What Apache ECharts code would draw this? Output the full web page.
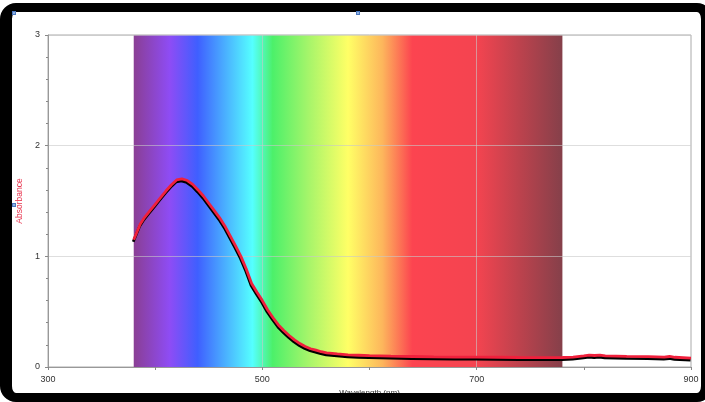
<!DOCTYPE html>
<html><head><meta charset="utf-8">
<script src="https://cdn.jsdelivr.net/npm/echarts@6/dist/echarts.min.js"></script>
<style>
html,body{margin:0;padding:0;background:#fff;overflow:hidden;}
#c{position:absolute;left:0;top:0;width:705px;height:402px;}
#frame{position:absolute;left:0;top:3px;width:713px;height:399px;box-sizing:border-box;border-style:solid;border-color:#000;border-width:9px 12px 9px 12px;border-radius:16px;pointer-events:none;}
.h{position:absolute;width:4px;height:4px;background:#8fb0e0;border:1px solid #4a78c0;box-sizing:border-box;pointer-events:none;}
</style></head>
<body><div id="c"></div><div id="frame"></div>
<div class="h" style="left:12px;top:11px"></div>
<div class="h" style="left:356px;top:11px"></div>
<div class="h" style="left:12px;top:203px"></div>
<script>
const wavelengths = [380,383,386,390,395,400,405,410,415,420,425,430,435,440,445,450,455,460,465,470,475,480,485,490,495,500,505,510,515,520,525,530,535,540,545,550,555,560,570,580,590,600,620,640,660,680,700,720,740,760,780,790,800,805,810,815,820,840,860,875,880,885,900];
const absorbance = [1.15,1.22,1.29,1.35,1.41,1.47,1.53,1.59,1.645,1.69,1.70,1.685,1.65,1.60,1.545,1.48,1.415,1.35,1.275,1.185,1.095,1.00,0.885,0.755,0.675,0.60,0.515,0.445,0.38,0.33,0.285,0.245,0.212,0.185,0.165,0.152,0.138,0.128,0.118,0.11,0.106,0.102,0.098,0.095,0.092,0.09,0.09,0.088,0.086,0.085,0.086,0.09,0.10,0.108,0.104,0.107,0.10,0.096,0.094,0.09,0.095,0.088,0.08];
const bandStart = 380, bandEnd = 780;
const spectrumStops = [
  [0,'#8a3f94'],[0.084,'#8e4cf5'],[0.149,'#3f5fff'],[0.277,'#55ffff'],[0.324,'#4cf06a'],
  [0.41,'#a8f56a'],[0.50,'#ffff66'],[0.58,'#fdb65c'],[0.65,'#fc4450'],[0.80,'#f44450'],[1,'#85404a']
];
const xTicks = [300,500,700,900];

const chart = echarts.init(document.getElementById('c'));
const font = 'Liberation Sans, Arial, sans-serif';
chart.setOption({
  animation:false,
  backgroundColor:'#fff',
  grid:{left:48,right:14,top:35,bottom:35,show:true,borderColor:'#aaa',borderWidth:1},
  xAxis:{type:'value',min:300,max:900,interval:100,z:3,
    axisLine:{onZero:false,lineStyle:{color:'#999'}},
    axisTick:{length:3,lineStyle:{color:'#888'}},
    axisLabel:{fontSize:9,color:'#333',fontFamily:font,margin:8,
      formatter:v=>xTicks.includes(v)?String(v):''},
    splitLine:{show:false},
    name:'Wavelength (nm)',nameLocation:'middle',nameGap:21,
    nameTextStyle:{fontSize:8,color:'#333',fontFamily:font}},
  yAxis:{type:'value',min:0,max:3,interval:1,z:3,
    axisLine:{show:true,lineStyle:{color:'#999'}},
    axisTick:{show:true,length:3,lineStyle:{color:'#888'}},
    minorTick:{show:true,splitNumber:5,length:2,lineStyle:{color:'#888'}},
    axisLabel:{fontSize:9,color:'#333',fontFamily:font,margin:8},
    splitLine:{show:true,lineStyle:{color:'rgba(200,200,200,0.6)',width:1}},
    name:'Absorbance',nameLocation:'middle',nameGap:19,nameRotate:90,
    nameTextStyle:{fontSize:8.5,color:'#e8334d',fontFamily:font}},
  series:[
    {type:'line',data:[],z:1,silent:true,
      markArea:{silent:true,z:1,
        itemStyle:{color:new echarts.graphic.LinearGradient(0,0,1,0,
          spectrumStops.map(s=>({offset:s[0],color:s[1]}))),opacity:1},
        data:[[{xAxis:bandStart,yAxis:0},{xAxis:bandEnd,yAxis:3}]]}},
    {type:'line',data:[],z:2,silent:true,
      markLine:{silent:true,symbol:'none',label:{show:false},z:2,
        lineStyle:{color:'rgba(200,200,200,0.6)',type:'solid',width:1},
        data:xTicks.slice(1,-1).map(v=>({xAxis:v}))}},
    {type:'line',z:5,symbol:'none',smooth:false,
      data:wavelengths.map((w,i)=>[w,absorbance[i]]),
      lineStyle:{color:'#f0203c',width:2.8,shadowColor:'#000',shadowBlur:0,shadowOffsetX:-0.5,shadowOffsetY:2}}
  ]
});
</script>
</body></html>
